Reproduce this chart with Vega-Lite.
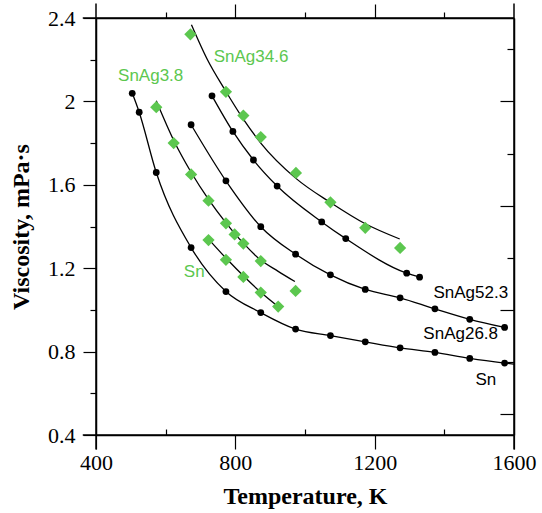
{
  "$schema": "https://vega.github.io/schema/vega-lite/v6.json",
  "autosize": {"type": "none"},
  "width": 418,
  "height": 417,
  "padding": {"left": 96, "top": 18, "right": 28, "bottom": 78},
  "background": "white",
  "config": {
    "view": {"stroke": null},
    "axis": {
      "labelFont": "Liberation Serif", "labelFontSize": 22, "labelColor": "black",
      "labelFlush": false, "labelOverlap": false,
      "titleFont": "Liberation Serif", "titleFontSize": 24, "titleFontWeight": "bold", "titleColor": "black",
      "domainColor": "black", "domainWidth": 1.5, "tickColor": "black", "tickWidth": 1.2, "grid": false
    }
  },
  "datasets": {
    "fits": [
      {"curve": "Sn", "T": 504, "v": 2.04}, {"curve": "Sn", "T": 524, "v": 1.948}, {"curve": "Sn", "T": 573, "v": 1.659},
      {"curve": "Sn", "T": 673, "v": 1.299}, {"curve": "Sn", "T": 773, "v": 1.088}, {"curve": "Sn", "T": 873, "v": 0.987},
      {"curve": "Sn", "T": 973, "v": 0.908}, {"curve": "Sn", "T": 1073, "v": 0.877}, {"curve": "Sn", "T": 1173, "v": 0.847},
      {"curve": "Sn", "T": 1273, "v": 0.818}, {"curve": "Sn", "T": 1373, "v": 0.796}, {"curve": "Sn", "T": 1473, "v": 0.767},
      {"curve": "Sn", "T": 1573, "v": 0.745}, {"curve": "Sn", "T": 1600, "v": 0.74},
      {"curve": "SnAg26.8", "T": 673, "v": 1.888}, {"curve": "SnAg26.8", "T": 773, "v": 1.619}, {"curve": "SnAg26.8", "T": 873, "v": 1.399},
      {"curve": "SnAg26.8", "T": 973, "v": 1.267}, {"curve": "SnAg26.8", "T": 1073, "v": 1.168}, {"curve": "SnAg26.8", "T": 1173, "v": 1.098},
      {"curve": "SnAg26.8", "T": 1273, "v": 1.058}, {"curve": "SnAg26.8", "T": 1373, "v": 1.005}, {"curve": "SnAg26.8", "T": 1473, "v": 0.955},
      {"curve": "SnAg26.8", "T": 1573, "v": 0.916},
      {"curve": "SnAg52.3", "T": 733, "v": 2.027}, {"curve": "SnAg52.3", "T": 793, "v": 1.856}, {"curve": "SnAg52.3", "T": 852, "v": 1.719},
      {"curve": "SnAg52.3", "T": 920, "v": 1.594}, {"curve": "SnAg52.3", "T": 1048, "v": 1.422}, {"curve": "SnAg52.3", "T": 1117, "v": 1.342},
      {"curve": "SnAg52.3", "T": 1292, "v": 1.176}, {"curve": "SnAg52.3", "T": 1329, "v": 1.157},
      {"curve": "SnAg34.6", "T": 674, "v": 2.368}, {"curve": "SnAg34.6", "T": 720, "v": 2.2}, {"curve": "SnAg34.6", "T": 770, "v": 2.056},
      {"curve": "SnAg34.6", "T": 823, "v": 1.915}, {"curve": "SnAg34.6", "T": 873, "v": 1.8}, {"curve": "SnAg34.6", "T": 973, "v": 1.632},
      {"curve": "SnAg34.6", "T": 1073, "v": 1.515}, {"curve": "SnAg34.6", "T": 1173, "v": 1.413}, {"curve": "SnAg34.6", "T": 1272, "v": 1.34},
      {"curve": "SnAg3.8", "T": 573, "v": 2.003}, {"curve": "SnAg3.8", "T": 624, "v": 1.81}, {"curve": "SnAg3.8", "T": 673, "v": 1.66},
      {"curve": "SnAg3.8", "T": 723, "v": 1.53}, {"curve": "SnAg3.8", "T": 772, "v": 1.42}, {"curve": "SnAg3.8", "T": 823, "v": 1.32},
      {"curve": "SnAg3.8", "T": 872, "v": 1.24}, {"curve": "SnAg3.8", "T": 923, "v": 1.185}, {"curve": "SnAg3.8", "T": 971, "v": 1.136},
      {"curve": "SnG", "T": 725, "v": 1.336}, {"curve": "SnG", "T": 775, "v": 1.245}, {"curve": "SnG", "T": 825, "v": 1.16},
      {"curve": "SnG", "T": 873, "v": 1.085}, {"curve": "SnG", "T": 921, "v": 1.019}
    ],
    "black": [
      {"s": "Sn", "T": 504, "v": 2.039}, {"s": "Sn", "T": 524, "v": 1.948}, {"s": "Sn", "T": 573, "v": 1.659},
      {"s": "Sn", "T": 673, "v": 1.299}, {"s": "Sn", "T": 773, "v": 1.088}, {"s": "Sn", "T": 873, "v": 0.987},
      {"s": "Sn", "T": 973, "v": 0.908}, {"s": "Sn", "T": 1073, "v": 0.877}, {"s": "Sn", "T": 1173, "v": 0.847},
      {"s": "Sn", "T": 1273, "v": 0.818}, {"s": "Sn", "T": 1373, "v": 0.796}, {"s": "Sn", "T": 1473, "v": 0.767},
      {"s": "Sn", "T": 1573, "v": 0.745},
      {"s": "SnAg26.8", "T": 673, "v": 1.888}, {"s": "SnAg26.8", "T": 773, "v": 1.619}, {"s": "SnAg26.8", "T": 873, "v": 1.399},
      {"s": "SnAg26.8", "T": 973, "v": 1.267}, {"s": "SnAg26.8", "T": 1073, "v": 1.168}, {"s": "SnAg26.8", "T": 1173, "v": 1.098},
      {"s": "SnAg26.8", "T": 1273, "v": 1.058}, {"s": "SnAg26.8", "T": 1373, "v": 1.005}, {"s": "SnAg26.8", "T": 1473, "v": 0.955},
      {"s": "SnAg26.8", "T": 1573, "v": 0.916},
      {"s": "SnAg52.3", "T": 733, "v": 2.027}, {"s": "SnAg52.3", "T": 793, "v": 1.856}, {"s": "SnAg52.3", "T": 852, "v": 1.719},
      {"s": "SnAg52.3", "T": 920, "v": 1.594}, {"s": "SnAg52.3", "T": 1048, "v": 1.422}, {"s": "SnAg52.3", "T": 1117, "v": 1.342},
      {"s": "SnAg52.3", "T": 1292, "v": 1.176}, {"s": "SnAg52.3", "T": 1329, "v": 1.157}
    ],
    "green": [
      {"s": "SnAg34.6", "T": 671, "v": 2.322}, {"s": "SnAg34.6", "T": 773, "v": 2.046}, {"s": "SnAg34.6", "T": 823, "v": 1.932},
      {"s": "SnAg34.6", "T": 873, "v": 1.829}, {"s": "SnAg34.6", "T": 974, "v": 1.657}, {"s": "SnAg34.6", "T": 1073, "v": 1.516},
      {"s": "SnAg34.6", "T": 1173, "v": 1.394}, {"s": "SnAg34.6", "T": 1273, "v": 1.297},
      {"s": "SnAg3.8", "T": 573, "v": 1.972}, {"s": "SnAg3.8", "T": 623, "v": 1.8}, {"s": "SnAg3.8", "T": 673, "v": 1.65},
      {"s": "SnAg3.8", "T": 723, "v": 1.524}, {"s": "SnAg3.8", "T": 773, "v": 1.415}, {"s": "SnAg3.8", "T": 798, "v": 1.362},
      {"s": "SnAg3.8", "T": 823, "v": 1.318}, {"s": "SnAg3.8", "T": 873, "v": 1.234}, {"s": "SnAg3.8", "T": 973, "v": 1.091},
      {"s": "Sn", "T": 723, "v": 1.335}, {"s": "Sn", "T": 773, "v": 1.24}, {"s": "Sn", "T": 823, "v": 1.158},
      {"s": "Sn", "T": 873, "v": 1.083}, {"s": "Sn", "T": 923, "v": 1.016}
    ],
    "labels": [
      {"text": "SnAg34.6", "T": 845, "v": 2.213, "c": "g"},
      {"text": "SnAg3.8", "T": 557, "v": 2.12, "c": "g"},
      {"text": "Sn", "T": 682, "v": 1.184, "c": "g"},
      {"text": "SnAg52.3", "T": 1476, "v": 1.083, "c": "k"},
      {"text": "SnAg26.8", "T": 1447, "v": 0.884, "c": "k"},
      {"text": "Sn", "T": 1519, "v": 0.665, "c": "k"}
    ],
    "frame": [
      {"T": 400, "T2": 400, "v": 0.33, "v2": 2.47},
      {"T": 1600, "T2": 1600, "v": 0.33, "v2": 2.47},
      {"T": 362, "T2": 1600, "v": 2.4, "v2": 2.4},
      {"T": 362, "T2": 1600, "v": 0.4, "v2": 0.4}
    ]
  },
  "resolve": {"axis": {"x": "independent", "y": "independent"}},
  "layer": [
    {
      "data": {"name": "fits"},
      "mark": {"type": "line", "interpolate": "monotone", "color": "black", "strokeWidth": 1.3},
      "encoding": {
        "x": {"field": "T", "type": "quantitative", "scale": {"domain": [400, 1600], "nice": false, "zero": false},
              "axis": {"orient": "bottom", "values": [400, 800, 1200, 1600], "format": "d", "tickSize": 14, "labelPadding": 3, "title": "Temperature, K", "titlePadding": 11}},
        "y": {"field": "v", "type": "quantitative", "scale": {"domain": [0.4, 2.4], "nice": false, "zero": false},
              "axis": {"orient": "left", "values": [0.4, 0.8, 1.2, 1.6, 2.0, 2.4], "tickSize": 13, "labelPadding": 8, "format": "~g", "title": "Viscosity, mPa·s", "titlePadding": 14}},
        "detail": {"field": "curve"}
      }
    },
    {
      "data": {"name": "black"},
      "mark": {"type": "point", "shape": "circle", "filled": true, "color": "black", "size": 46, "opacity": 1},
      "encoding": {
        "x": {"field": "T", "type": "quantitative", "axis": {"orient": "bottom", "values": [600, 1000, 1400], "tickSize": -6, "labels": false, "domain": false, "title": null}},
        "y": {"field": "v", "type": "quantitative", "axis": {"orient": "left", "values": [0.6, 1.0, 1.4, 1.8, 2.2], "tickSize": 6, "labels": false, "domain": false, "title": null}}
      }
    },
    {
      "data": {"name": "green"},
      "mark": {"type": "point", "shape": "diamond", "filled": true, "color": "#5cc74f", "size": 150, "opacity": 1},
      "encoding": {
        "x": {"field": "T", "type": "quantitative", "axis": {"orient": "top", "values": [800, 1200], "tickSize": 14, "labels": false, "title": null}},
        "y": {"field": "v", "type": "quantitative", "axis": {"orient": "right", "values": [0.5, 1.0, 1.5, 2.0], "tickSize": -14, "labels": false, "title": null}}
      }
    },
    {
      "data": {"name": "labels"},
      "mark": {"type": "text", "font": "Liberation Sans", "fontSize": 17, "align": "center", "baseline": "middle"},
      "encoding": {
        "x": {"field": "T", "type": "quantitative", "axis": {"orient": "top", "values": [600, 1000, 1400], "tickSize": 6, "labels": false, "domain": false, "title": null}},
        "y": {"field": "v", "type": "quantitative", "axis": {"orient": "right", "values": [0.75, 1.25, 1.75, 2.25], "tickSize": -7, "labels": false, "domain": false, "title": null}},
        "text": {"field": "text"},
        "color": {"field": "c", "type": "nominal", "scale": {"domain": ["g", "k"], "range": ["#5cc74f", "black"]}, "legend": null}
      }
    },
    {
      "data": {"name": "frame"},
      "mark": {"type": "rule", "color": "black", "strokeWidth": 1.5},
      "encoding": {
        "x": {"field": "T", "type": "quantitative", "axis": null},
        "x2": {"field": "T2"},
        "y": {"field": "v", "type": "quantitative", "axis": null},
        "y2": {"field": "v2"}
      }
    }
  ]
}
